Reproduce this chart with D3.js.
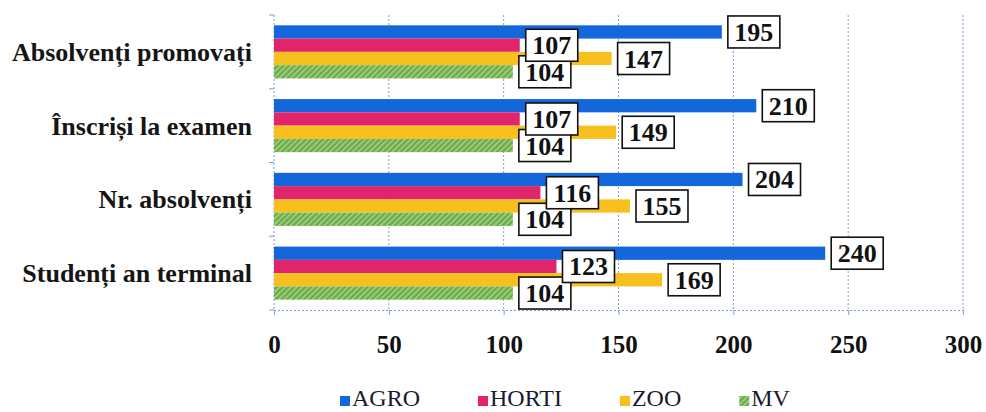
<!DOCTYPE html>
<html><head><meta charset="utf-8">
<script src="https://cdn.jsdelivr.net/npm/d3@7"></script>
<style>
html,body{margin:0;padding:0;background:#fff;}
svg{display:block;}
.b{font-weight:bold;}
.tnr{font-family:"Times New Roman";}
.tinos{font-family:Tinos;}
.ls{font-family:"Liberation Serif";}
</style></head>
<body>
<svg id="chart" width="986" height="412"></svg>
<script>
const categories = ["Absolvenți promovați", "Înscriși la examen", "Nr. absolvenți", "Studenți an terminal"];
const seriesNames = ["AGRO", "HORTI", "ZOO", "MV"];
const agro = [195, 210, 204, 240];
const horti = [107, 107, 116, 123];
const zoo = [147, 149, 155, 169];
const mv = [104, 104, 104, 104];
const xTicks = [0, 50, 100, 150, 200, 250, 300];

const seriesValues = [agro, horti, zoo, mv];
const colors = ["#1467DA", "#E1256C", "#F8C01E", "url(#mvHatch)"];

const svg = d3.select("#chart");
const defs = svg.append("defs");
const pat = defs.append("pattern").attr("id", "mvHatch").attr("patternUnits", "userSpaceOnUse")
  .attr("width", 4).attr("height", 4).attr("patternTransform", "rotate(45)");
pat.append("rect").attr("width", 4).attr("height", 4).attr("fill", "#6DAA48");
pat.append("rect").attr("width", 1.5).attr("height", 4).attr("fill", "#A6D58A");

const x0 = 274, x1 = 963, yTop = 15, yBot = 310;
const x = d3.scaleLinear().domain([0, 300]).range([x0, x1]);
const y = d3.scaleBand().domain(categories).range([yTop, yBot]).paddingInner(0.28).paddingOuter(0.14);
const ys = d3.scaleBand().domain(seriesNames).range([0, y.bandwidth()]).padding(0);

const gridColor = "#7f9fd6";
svg.append("g").selectAll("line").data(xTicks.filter(d => d > 0)).join("line")
  .attr("x1", d => x(d)).attr("x2", d => x(d)).attr("y1", yTop).attr("y2", yBot)
  .attr("stroke", gridColor).attr("stroke-width", 1).attr("stroke-dasharray", "2,2");

const xAxis = d3.axisBottom(x).tickValues(xTicks).tickSize(5).tickFormat(d3.format("d"));
const gx = svg.append("g").attr("transform", `translate(0,${yBot})`).call(xAxis);
gx.attr("font-family", null).attr("font-size", null);
gx.select(".domain").attr("stroke", gridColor).attr("stroke-dasharray", "2,2");
gx.selectAll(".tick line").attr("stroke", gridColor);
gx.selectAll(".tick text").attr("class", "b tinos")
  .style("font-size", "25px").attr("fill", "#111").attr("dy", 0).attr("y", 43);

svg.append("line").attr("x1", x0).attr("x2", x0).attr("y1", yTop).attr("y2", yBot)
  .attr("stroke", gridColor).attr("stroke-dasharray", "2,2");
const boundaries = [yTop].concat(categories.map(c => y(c) - y.step() * 0.14 + y.step()));
svg.append("g").selectAll("line").data(boundaries).join("line")
  .attr("x1", x0 - 5).attr("x2", x0).attr("y1", d => d).attr("y2", d => d)
  .attr("stroke", gridColor);

svg.append("g").selectAll("text").data(categories).join("text")
  .attr("class", "b ls")
  .attr("x", 252).attr("y", d => y(d) + y.bandwidth() / 2 + 9)
  .attr("text-anchor", "end")
  .style("font-size", "26px").attr("fill", "#151515")
  .text(d => d);

const barData = [];
seriesNames.forEach((s, si) => {
  categories.forEach((c, ci) => {
    barData.push({ s, si, c, v: seriesValues[si][ci] });
  });
});
svg.append("g").selectAll("rect").data(barData).join("rect")
  .attr("x", x(0)).attr("y", d => y(d.c) + ys(d.s))
  .attr("width", d => x(d.v) - x(0)).attr("height", ys.bandwidth())
  .attr("fill", d => colors[d.si]);

const labelOrder = [0, 2, 3, 1];
const lg = svg.append("g");
labelOrder.forEach(si => {
  categories.forEach((c, ci) => {
    const v = seriesValues[si][ci];
    const cy = y(c) + ys(seriesNames[si]) + ys.bandwidth() / 2;
    const bx = x(v) + 6;
    const g = lg.append("g");
    g.append("rect").attr("fill", "#fff").attr("stroke", "#111").attr("stroke-width", 1.6)
      .attr("x", bx).attr("y", cy - 16).attr("width", 52).attr("height", 32);
    g.append("text").attr("class", "b tnr").attr("x", bx + 26).attr("y", cy + 9)
      .attr("text-anchor", "middle")
      .style("font-size", "26px").attr("fill", "#111")
      .text(String(v));
  });
});

const leg = svg.append("g");
let lx = 340;
seriesNames.forEach((s, si) => {
  leg.append("rect").attr("x", lx).attr("y", 396).attr("width", 10).attr("height", 10).attr("fill", colors[si]);
  const t = leg.append("text").attr("class", "ls").attr("x", lx + 12).attr("y", 406)
    .style("font-size", "24px").attr("fill", "#1a1a2a").text(s);
  lx = lx + 12 + t.node().getComputedTextLength() + 58;
});
</script>
</body></html>
